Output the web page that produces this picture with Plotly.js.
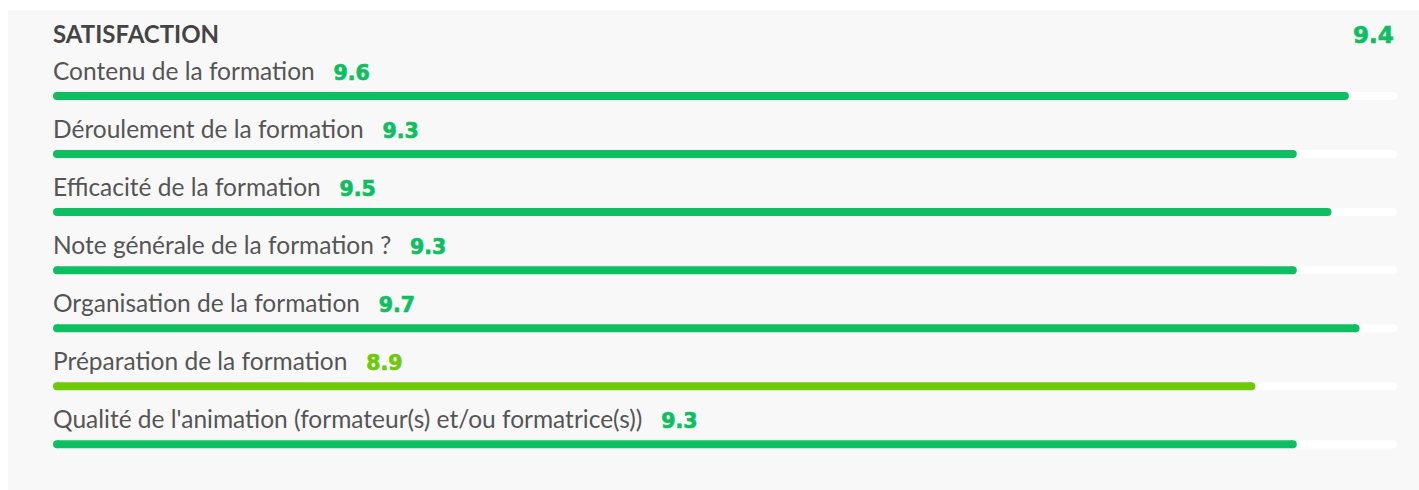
<!DOCTYPE html>
<html><head><meta charset="utf-8">
<script src="https://cdn.plot.ly/plotly-3.0.1.min.js"></script>
<style>html,body{margin:0;padding:0;background:#fff}#c{width:1419px;height:490px}</style>
</head><body><div id="c"></div>
<script>
const sectionTitle = "SATISFACTION";
const overallLabel = "9.4";
const overallScore = 9.4;
const categories = [
  "Contenu de la formation",
  "Déroulement de la formation",
  "Efficacité de la formation",
  "Note générale de la formation ?",
  "Organisation de la formation",
  "Préparation de la formation",
  "Qualité de l'animation (formateur(s) et/ou formatrice(s))"
];
// bar lengths (out of 10)
const scores = [9.64, 9.25, 9.51, 9.25, 9.72, 8.94, 9.25];
// rounded values printed next to each label
const scoreLabels = ["9.6", "9.3", "9.5", "9.3", "9.7", "8.9", "9.3"];
const maxScore = 10;

const GREEN = "#0dbf61", LIGHT = "#6ec909";
const colorFor = v => v < 9 ? LIGHT : GREEN;

const traces = [];
categories.forEach((c, i) => {
  traces.push({
    type: "scatter", mode: "lines+markers", x: [0, maxScore], y: [i, i],
    line: {color: "#ffffff", width: 8}, marker: {color: "#ffffff", size: 8, line: {width: 0}},
    hoverinfo: "skip", showlegend: false, cliponaxis: false
  });
});
categories.forEach((c, i) => {
  const col = colorFor(scores[i]);
  traces.push({
    type: "scatter", mode: "lines+markers", x: [0, scores[i]], y: [i, i],
    line: {color: col, width: 8}, marker: {color: col, size: 8, line: {width: 0}},
    hoverinfo: "skip", showlegend: false, cliponaxis: false
  });
});

const valStyle = col => "font-family:'DejaVu Sans';font-weight:bold;font-size:20.5px;fill:" + col + ";stroke:" + col + ";stroke-width:0.7px";
const annotations = categories.map((c, i) => ({
  xref: "paper", yref: "y", x: 0, y: i, yshift: 25.5, xshift: -6,
  xanchor: "left", yanchor: "middle", showarrow: false,
  text: c + "&nbsp;&nbsp; <span style=\"" + valStyle(colorFor(scores[i])) + "\">" + scoreLabels[i] + "</span>",
  font: {family: "Lato", size: 24.5, color: "#555555"}
}));
annotations.push({
  xref: "paper", yref: "paper", x: 0, y: 1 - 33/490, xshift: -6, xanchor: "left", yanchor: "middle",
  showarrow: false, text: "<b>" + sectionTitle + "</b>",
  font: {family: "Lato", size: 24, color: "#444444"}
});
annotations.push({
  xref: "paper", yref: "paper", x: 1, y: 1 - 35/490, xshift: 3, xanchor: "right", yanchor: "middle",
  showarrow: false, text: "<span style=\"" + valStyle(colorFor(overallScore)) + ";font-size:23px\">" + overallLabel + "</span>",
  font: {family: "DejaVu Sans", size: 23, color: colorFor(overallScore)}
});

const layout = {
  width: 1419, height: 490,
  margin: {l: 57, r: 26, t: 0, b: 0, pad: 0},
  paper_bgcolor: "#ffffff", plot_bgcolor: "rgba(0,0,0,0)",
  xaxis: {range: [0, maxScore], visible: false, fixedrange: true},
  yaxis: {range: [6.787, -1.654], visible: false, fixedrange: true},
  shapes: [{type: "rect", xref: "paper", yref: "paper", x0: -49/1336, x1: 1.1, y0: -0.05, y1: 1 - 10/490,
    fillcolor: "#f8f8f8", line: {width: 0}, layer: "below"}],
  annotations: annotations
};
Plotly.newPlot("c", traces, layout, {staticPlot: true, displayModeBar: false});
</script></body></html>
